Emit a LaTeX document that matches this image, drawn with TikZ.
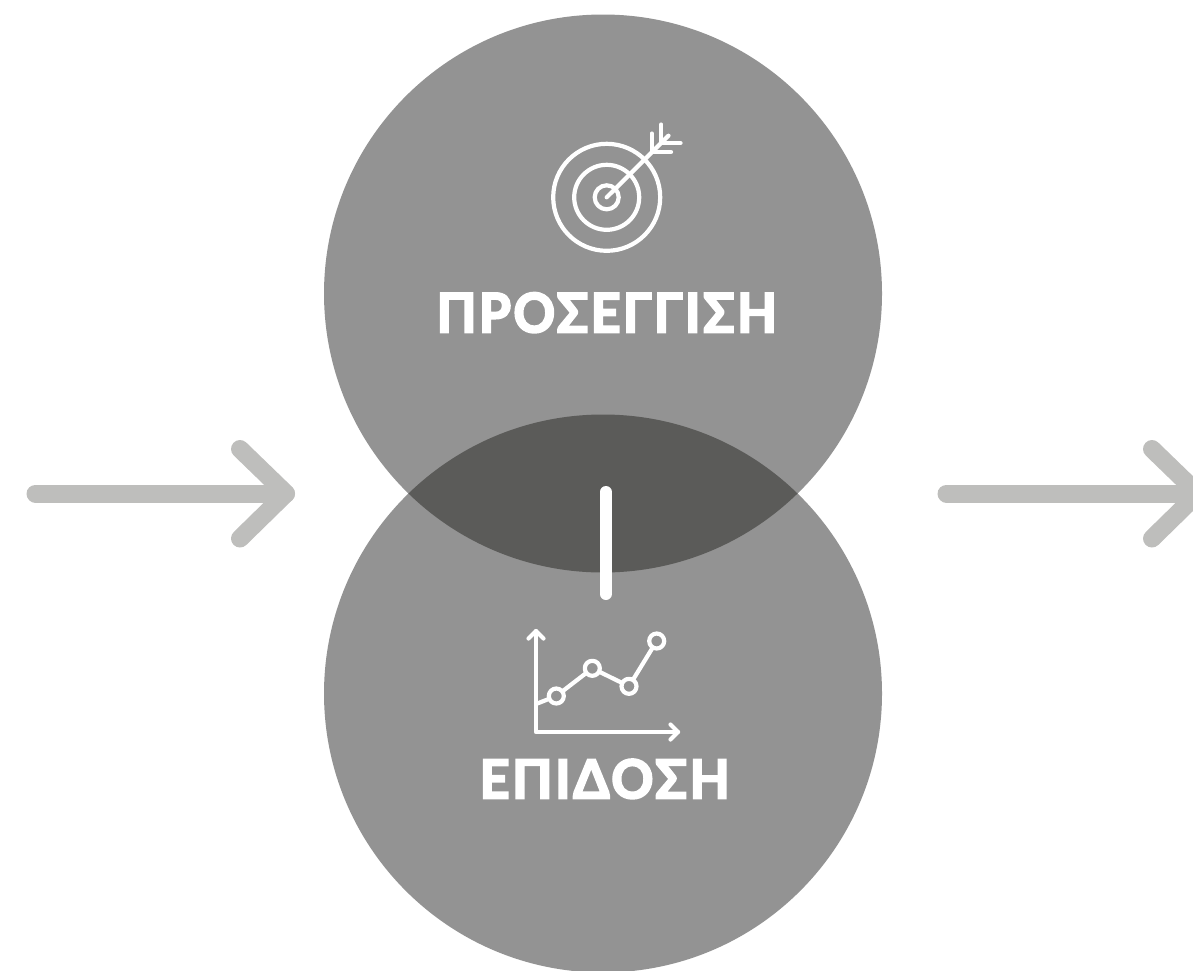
\documentclass[tikz,border=0pt]{standalone}
\usepackage{fontspec}
\usepackage{graphicx}
\setmainfont{Lato}
\newfontfamily\heavy{Lato}[BoldFeatures={FakeBold=4,LetterSpace=5}]
\definecolor{disc}{HTML}{939393}
\definecolor{overlap}{HTML}{5B5B59}
\definecolor{arrowgrey}{HTML}{BEBEBC}
\tikzset{
  disc/.style={fill=disc,draw=none},
  bigarrow/.style={draw=arrowgrey,line width=18pt,line cap=round,line join=round},
  iconline/.style={draw=white,line width=4.2pt,line cap=round,line join=round},
  label/.style={text=white,inner sep=0pt,anchor=north west}
}
\begin{document}
\begin{tikzpicture}[x=1pt,y=-1pt]
\useasboundingbox (0,0) rectangle (1193,970);
\clip (0,0) rectangle (1193,970);
% discs
\coordinate (topc) at (603,293.5);
\coordinate (botc) at (603,693.5);
\fill[disc] (topc) circle[radius=279];
\fill[disc] (botc) circle[radius=279];
\begin{scope}
  \clip (topc) circle[radius=279];
  \fill[overlap] (botc) circle[radius=279];
\end{scope}
% left arrow
\coordinate (la) at (35.5,493.5);
\coordinate (lb) at (286,493.5);
\coordinate (lu) at (240,449);
\coordinate (ld) at (240,538.5);
\draw[bigarrow] (la) -- (lb);
\draw[bigarrow] (lu) -- (lb) -- (ld);
% right arrow
\coordinate (ra) at (946.5,493.5);
\coordinate (rb) at (1198,493.5);
\coordinate (ru) at (1152,449);
\coordinate (rd) at (1152,538.5);
\draw[bigarrow] (ra) -- (rb);
\draw[bigarrow] (ru) -- (rb) -- (rd);
% bar
\coordinate (bara) at (605.8,492);
\coordinate (barb) at (605.8,594);
\draw[draw=white,line width=12pt,line cap=round] (bara) -- (barb);
% target icon
\coordinate (tc) at (606.7,197.3);
\draw[iconline] (tc) circle[radius=53.5];
\draw[iconline] (tc) circle[radius=32.5];
\draw[iconline] (tc) circle[radius=12];
\coordinate (t1) at (606.7,197.3);
\coordinate (t2) at (651.7,152);
\coordinate (t3) at (661.3,143);
\coordinate (t4) at (668.5,135.7);
\draw[iconline] (t1) -- (t4);
\coordinate (f1) at (651.7,133.5);
\coordinate (f2) at (671,152);
\coordinate (f3) at (661.3,124.5);
\coordinate (f4) at (680.5,143);
\draw[iconline] (f1) -- (t2) -- (f2);
\draw[iconline] (f3) -- (t3) -- (f4);
% chart icon
\coordinate (o) at (536,732);
\coordinate (yt) at (536,631);
\coordinate (xt) at (678,732);
\draw[iconline] (yt) -- (o) -- (xt);
\coordinate (y1) at (528.5,638.5);
\coordinate (y2) at (543.5,638.5);
\coordinate (x1) at (670.5,724.5);
\coordinate (x2) at (670.5,739.5);
\draw[iconline] (y1) -- (yt) -- (y2);
\draw[iconline] (x1) -- (xt) -- (x2);
\coordinate (p0) at (536,704);
\coordinate (p1) at (556.3,696);
\coordinate (p2) at (592.3,668.3);
\coordinate (p3) at (629,686.3);
\coordinate (p4) at (656.7,641);
\draw[iconline,line cap=butt] (p0) -- (p1) -- (p2) -- (p3) -- (p4);
\foreach \p in {p1,p2,p3,p4}
  \draw[iconline,fill=disc] (\p) circle[radius=7.5];
% labels
\node[label] (prosegisi) at (436.5,292.5) {\resizebox{340pt}{39.5pt}{\heavy\bfseries ΠΡΟΣΕΓΓΙΣΗ}};
\node[label] (epidosi) at (479.5,759) {\resizebox{250pt}{39pt}{\heavy\bfseries ΕΠΙΔΟΣΗ}};
\end{tikzpicture}
\end{document}
